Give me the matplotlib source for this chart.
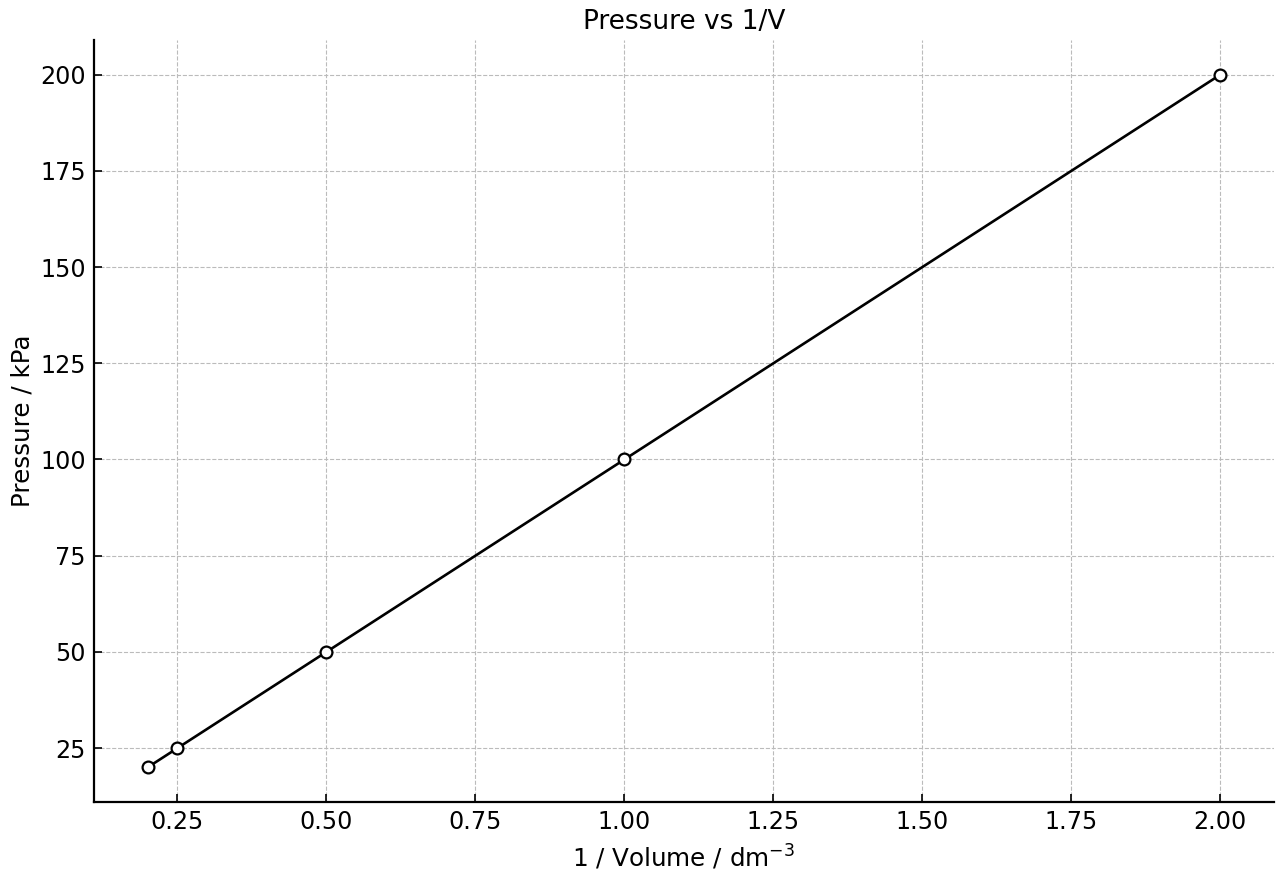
import matplotlib
matplotlib.use("Agg")
import matplotlib.pyplot as plt

inv_volume = [0.2, 0.25, 0.5, 1.0, 2.0]
pressure = [20, 25, 50, 100, 200]

plt.rcParams['font.family'] = ['DejaVu Sans']
fig, ax = plt.subplots(figsize=(12.8, 8.8), dpi=100)
ax.plot(inv_volume, pressure, color='black', linewidth=1.9, marker='o',
        markersize=8.5, markerfacecolor='white', markeredgecolor='black', markeredgewidth=1.6)
ax.set_title('Pressure vs 1/V', fontsize=19, pad=8)
ax.set_xlabel('1 / Volume / dm$^{-3}$', fontsize=17.7, labelpad=6)
ax.set_ylabel('Pressure / kPa', fontsize=17.7)
ax.set_xticks([0.25, 0.5, 0.75, 1.0, 1.25, 1.5, 1.75, 2.0])
ax.set_yticks([25, 50, 75, 100, 125, 150, 175, 200])
ax.tick_params(direction='in', labelsize=17.2, length=6, width=1.2, pad=6)
ax.grid(True, linestyle='--', color='#bbbbbb', linewidth=0.8)
ax.set_axisbelow(True)
for s in ['top', 'right']:
    ax.spines[s].set_visible(False)
for s in ['left', 'bottom']:
    ax.spines[s].set_linewidth(1.6)
fig.subplots_adjust(left=94/1280, right=1274/1280, top=1-40/880, bottom=1-802/880)
fig.savefig('out.png')
